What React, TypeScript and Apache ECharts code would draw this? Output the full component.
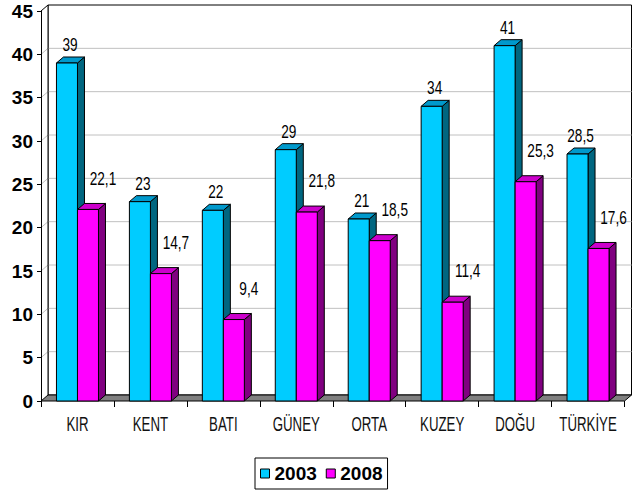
import React, { useEffect, useRef } from "react";
import * as echarts from "echarts";

// Regions and the share (%) for each survey year
const categories = ["KIR", "KENT", "BATI", "GÜNEY", "ORTA", "KUZEY", "DOĞU", "TÜRKİYE"];
const values2003 = [39, 23, 22, 29, 21, 34, 41, 28.5];
const values2008 = [22.1, 14.7, 9.4, 21.8, 18.5, 11.4, 25.3, 17.6];
const seriesNames = ["2003", "2008"];
const yMin = 0;
const yMax = 45;
const yStep = 5;

const FONT = "'Liberation Sans', Arial, Helvetica, sans-serif";
// depth of the pseudo-3D walls and bars
const DX = 7;
const DY = -6;
// width of one bar as a share of the category band
const BAR_RATIO = 0.288;

const fmt = (v: number) => String(v).replace(".", ",");

type Palette = { front: string; top: string; side: string };

function barRenderer(slot: 0 | 1, pal: Palette, labelDx: number, labelDy: number) {
  return (_params: any, api: any) => {
    const idx = api.value(0);
    const v = api.value(1);
    const top = api.coord([idx, v]);
    const base = api.coord([idx, 0]);
    const band = api.size([1, 0])[0];
    const w = band * BAR_RATIO;
    const x0 = slot === 0 ? top[0] - w : top[0];
    const x1 = x0 + w;
    const yt = top[1];
    const yb = base[1];
    const line = { stroke: "#000", lineWidth: 1 };
    return {
      type: "group",
      children: [
        {
          type: "polygon",
          shape: { points: [[x1, yt], [x1 + DX, yt + DY], [x1 + DX, yb + DY], [x1, yb]] },
          style: { fill: pal.side, ...line },
        },
        {
          type: "polygon",
          shape: { points: [[x0, yt], [x0 + DX, yt + DY], [x1 + DX, yt + DY], [x1, yt]] },
          style: { fill: pal.top, ...line },
        },
        {
          type: "rect",
          shape: { x: x0, y: yt, width: w, height: yb - yt },
          style: { fill: pal.front, ...line },
        },
        {
          type: "text",
          x: (x0 + x1) / 2 + labelDx,
          y: yt + labelDy,
          scaleX: 0.78,
          style: {
            text: fmt(v),
            fill: "#000",
            fontSize: 17.5,
            fontFamily: FONT,
            align: "center",
            verticalAlign: "middle",
            textAlign: "center",
            textVerticalAlign: "middle",
          },
        },
      ],
    };
  };
}

// back wall, left side wall with its grid lines, and the grey floor
function frameRenderer(params: any, api: any) {
  const cs = params.coordSys;
  const left = cs.x;
  const right = cs.x + cs.width;
  const top = cs.y;
  const bottom = cs.y + cs.height;
  const children: any[] = [];
  children.push({
    type: "rect",
    shape: { x: left + DX, y: top + DY, width: right - left, height: bottom - top },
    style: { fill: "#fff", stroke: "#000", lineWidth: 1 },
  });
  children.push({
    type: "polygon",
    shape: { points: [[left, bottom], [left, top], [left + DX, top + DY], [left + DX, bottom + DY]] },
    style: { fill: "#fff", stroke: null },
  });
  for (let t = yMin + yStep; t < yMax; t += yStep) {
    const y = api.coord([0, t])[1];
    children.push({
      type: "line",
      shape: { x1: left + DX, y1: y + DY, x2: right + DX, y2: y + DY },
      style: { stroke: "#c0c0c0", lineWidth: 1 },
    });
    children.push({
      type: "line",
      shape: { x1: left, y1: y, x2: left + DX, y2: y + DY },
      style: { stroke: "#c0c0c0", lineWidth: 1 },
    });
  }
  children.push({
    type: "line",
    shape: { x1: left, y1: top, x2: left + DX, y2: top + DY },
    style: { stroke: "#000", lineWidth: 1 },
  });
  children.push({
    type: "line",
    shape: { x1: left + DX, y1: top + DY, x2: left + DX, y2: bottom + DY },
    style: { stroke: "#000", lineWidth: 1 },
  });
  children.push({
    type: "polygon",
    shape: { points: [[left, bottom], [right, bottom], [right + DX, bottom + DY], [left + DX, bottom + DY]] },
    style: { fill: "#808080", stroke: "#000", lineWidth: 1 },
  });
  return { type: "group", children };
}

function categoryLabelRenderer(_params: any, api: any) {
  const idx = api.value(0);
  const p = api.coord([idx, 0]);
  return {
    type: "text",
    x: p[0],
    y: p[1] + 24,
    scaleX: 0.68,
    style: {
      text: categories[idx],
      fill: "#111",
      fontSize: 19.5,
      fontFamily: FONT,
      align: "center",
      verticalAlign: "middle",
      textAlign: "center",
      textVerticalAlign: "middle",
    },
  };
}

const cyan: Palette = { front: "#00CCFF", top: "#0099CC", side: "#006680" };
const magenta: Palette = { front: "#FF00FF", top: "#CC00CC", side: "#800080" };

export default function App() {
  const ref = useRef<HTMLDivElement>(null);

  useEffect(() => {
    if (!ref.current) return;
    const chart = echarts.init(ref.current, undefined, { renderer: "svg" });
    chart.setOption({
      animation: false,
      backgroundColor: "#fff",
      grid: { left: 41, top: 11, width: 583.5, height: 390, containLabel: false },
      xAxis: {
        type: "category",
        data: categories,
        z: 10,
        axisLine: { show: false },
        axisTick: { show: true, length: 6, interval: 0, lineStyle: { color: "#000" } },
        axisLabel: { show: false },
        splitLine: { show: false },
      },
      yAxis: {
        type: "value",
        min: yMin,
        max: yMax,
        interval: yStep,
        z: 10,
        axisLine: { show: true, lineStyle: { color: "#000", width: 1 } },
        axisTick: { show: true, length: 4, lineStyle: { color: "#000" } },
        axisLabel: {
          margin: 8,
          color: "#000",
          fontSize: 19,
          fontWeight: "bold",
          fontFamily: FONT,
        },
        splitLine: { show: false },
      },
      legend: {
        data: [
          { name: seriesNames[0], itemStyle: { color: cyan.front, borderColor: "#000", borderWidth: 1 } },
          { name: seriesNames[1], itemStyle: { color: magenta.front, borderColor: "#000", borderWidth: 1 } },
        ],
        icon: "rect",
        itemWidth: 9,
        itemHeight: 9,
        itemGap: 9,
        left: 255,
        top: 458,
        padding: [6, 5, 6, 5],
        borderColor: "#000",
        borderWidth: 1,
        backgroundColor: "#fff",
        textStyle: { color: "#000", fontSize: 19, fontWeight: "bold", fontFamily: FONT },
      },
      series: [
        {
          type: "custom",
          name: "frame",
          silent: true,
          z: 1,
          renderItem: frameRenderer,
          data: [[0, 0]],
        },
        {
          type: "custom",
          name: seriesNames[0],
          z: 2,
          itemStyle: { color: cyan.front },
          renderItem: barRenderer(0, cyan, 3, -18),
          data: values2003.map((v, i) => [i, v]),
        },
        {
          type: "custom",
          name: seriesNames[1],
          z: 3,
          itemStyle: { color: magenta.front },
          renderItem: barRenderer(1, magenta, 15, -31),
          data: values2008.map((v, i) => [i, v]),
        },
        {
          type: "custom",
          name: "categoryLabels",
          silent: true,
          z: 4,
          renderItem: categoryLabelRenderer,
          data: categories.map((_c, i) => [i, 0]),
        },
      ],
    });
    return () => chart.dispose();
  }, []);

  return (
    <div
      ref={ref}
      style={{ position: "absolute", left: 0, top: 0, width: 634, height: 498, background: "#fff" }}
    />
  );
}
